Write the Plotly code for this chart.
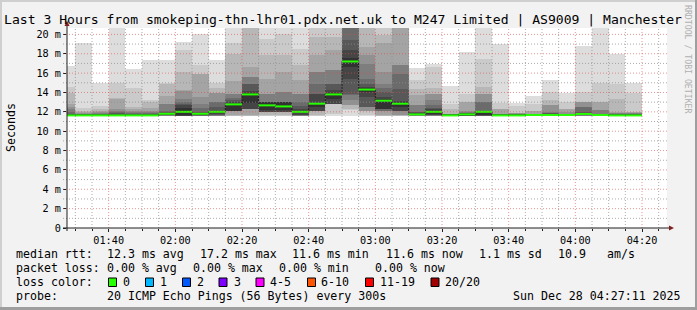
import plotly.graph_objects as go
import pandas as pd

DAY = "2025-12-28"

# start of each 5-minute measurement interval
interval_start = ["01:25", "01:30", "01:35", "01:40", "01:45", "01:50", "01:55",
                  "02:00", "02:05", "02:10", "02:15", "02:20", "02:25", "02:30",
                  "02:35", "02:40", "02:45", "02:50", "02:55", "03:00", "03:05",
                  "03:10", "03:15", "03:20", "03:25", "03:30", "03:35", "03:40",
                  "03:45", "03:50", "03:55", "04:00", "04:05", "04:10", "04:15"]

# median round-trip time per interval (ms)
median_ms = [11.63, 11.63, 11.63, 11.63, 11.63, 11.63, 11.80, 12.00, 11.80, 12.00,
             12.77, 13.80, 12.67, 12.56, 12.00, 12.84, 13.80, 17.20, 14.30, 13.15,
             12.84, 11.74, 12.00, 11.63, 11.74, 12.00, 11.63, 11.63, 11.67, 11.67,
             11.67, 11.78, 11.67, 11.63, 11.63]

# 20 sorted ping times per interval (ms) - the "smoke"
LOW = [11.55, 11.56, 11.57, 11.58, 11.58, 11.59, 11.59, 11.60, 11.60, 11.61]
pings_ms = [
    LOW + [11.66, 11.72, 11.80, 12.00, 12.25, 12.55, 12.85, 13.90, 14.56, 16.70],
    LOW + [11.65, 11.68, 11.70, 11.74, 11.80, 11.88, 11.98, 12.10, 12.40, 19.14],
    LOW + [11.65, 11.68, 11.72, 11.78, 11.86, 11.96, 12.10, 12.30, 12.57, 14.97],
    LOW + [11.67, 11.75, 11.85, 11.95, 12.10, 12.30, 13.30, 13.40, 15.00, 21.50],
    LOW + [11.66, 11.70, 11.76, 11.84, 11.94, 12.08, 12.25, 12.50, 14.50, 16.40],
    LOW + [11.66, 11.70, 11.76, 11.84, 11.95, 12.10, 12.40, 13.00, 13.20, 17.40],
    [11.55, 11.56, 11.57, 11.58, 11.60, 11.62, 11.65, 11.68, 11.72, 11.76,
     11.84, 11.92, 12.00, 12.08, 12.80, 12.85, 13.60, 14.90, 14.97, 17.40],
    [11.55, 11.56, 11.57, 11.58, 11.58, 11.59, 11.60, 11.60, 11.62, 11.65,
     12.35, 12.67, 12.80, 13.00, 13.36, 14.15, 14.22, 16.11, 18.35, 19.25],
    [11.55, 11.56, 11.57, 11.58, 11.59, 11.60, 11.62, 11.64, 11.67, 11.70,
     11.85, 11.92, 12.00, 12.40, 12.84, 13.50, 15.90, 15.90, 16.80, 20.00],
    [11.55, 11.56, 11.57, 11.58, 11.60, 11.62, 11.65, 11.70, 11.80, 11.90,
     12.05, 12.08, 12.50, 13.00, 13.00, 13.90, 13.90, 14.50, 15.00, 17.35],
    [11.55, 11.58, 11.60, 11.63, 12.08, 12.08, 12.08, 12.08, 12.08, 12.08,
     12.67, 13.01, 13.20, 13.45, 13.87, 13.87, 15.20, 18.00, 19.14, 21.50],
    [11.55, 11.58, 11.60, 11.63, 12.33, 12.33, 12.33, 12.33, 12.33, 12.90,
     13.90, 14.20, 14.90, 14.90, 15.60, 15.60, 16.60, 21.50, 21.60, 21.70],
    [11.55, 11.60, 11.63, 11.98, 11.98, 11.98, 11.98, 11.98, 11.98, 12.20,
     13.00, 13.01, 13.01, 13.01, 13.87, 13.87, 15.43, 17.83, 19.55, 21.50],
    [11.55, 11.60, 11.63, 11.98, 11.98, 11.98, 11.98, 11.98, 11.98, 12.20,
     13.00, 13.01, 13.01, 13.01, 14.05, 14.05, 16.11, 17.83, 20.07, 21.50],
    [11.55, 11.57, 11.58, 11.60, 11.60, 11.62, 11.64, 11.66, 11.70, 11.85,
     12.10, 12.30, 12.60, 13.01, 13.87, 13.87, 15.25, 16.80, 18.50, 21.50],
    [11.55, 11.60, 11.63, 12.08, 12.08, 12.08, 12.08, 12.08, 12.08, 12.50,
     12.95, 13.87, 13.87, 14.91, 16.11, 16.11, 17.83, 19.73, 21.50, 21.60],
    [11.53, 11.81, 12.84, 12.84, 12.84, 12.84, 12.84, 12.84, 12.84, 13.30,
     13.90, 14.30, 14.91, 14.91, 16.29, 16.29, 18.35, 19.73, 21.50, 21.60],
    [11.60, 12.20, 12.30, 12.75, 12.75, 13.20, 13.75, 13.80, 15.40, 16.60,
     17.60, 18.35, 19.38, 21.50, 21.60, 21.60, 21.60, 21.60, 21.60, 21.60],
    [11.55, 11.63, 12.08, 12.08, 12.08, 12.50, 12.50, 12.50, 13.53, 14.00,
     14.50, 14.60, 14.90, 15.43, 16.97, 17.83, 18.70, 21.50, 21.60, 21.60],
    [11.55, 11.60, 11.62, 11.63, 12.08, 12.08, 12.08, 12.33, 12.33, 12.33,
     13.30, 13.50, 14.05, 14.50, 14.91, 16.11, 19.10, 19.90, 21.50, 21.60],
    [11.55, 11.60, 11.62, 11.63, 11.63, 12.08, 12.08, 12.08, 12.08, 12.50,
     13.00, 13.10, 14.33, 15.87, 16.80, 16.80, 21.50, 21.60, 21.60, 21.60],
    [11.53, 11.55, 11.57, 11.58, 11.60, 11.62, 11.64, 11.66, 11.68, 11.70,
     11.80, 11.88, 11.95, 12.00, 12.67, 12.67, 13.70, 14.40, 15.30, 16.55],
    [11.55, 11.57, 11.58, 11.60, 11.61, 11.62, 11.64, 11.66, 11.70, 11.85,
     12.05, 12.33, 12.40, 12.75, 13.18, 13.87, 13.87, 14.50, 16.63, 16.97],
    LOW + [11.66, 11.70, 11.74, 11.78, 11.80, 11.81, 11.81, 12.33, 12.84, 14.63],
    [11.55, 11.56, 11.57, 11.58, 11.59, 11.60, 11.62, 11.64, 11.66, 11.68,
     11.78, 11.82, 11.86, 11.92, 12.00, 12.08, 13.00, 13.01, 13.87, 18.20],
    [11.53, 11.55, 11.57, 11.58, 11.59, 11.60, 11.61, 11.62, 11.63, 11.63,
     12.08, 12.08, 12.08, 13.01, 13.01, 13.87, 13.87, 14.57, 17.49, 21.50],
    LOW + [11.67, 11.70, 11.74, 11.78, 11.81, 11.81, 12.33, 12.33, 12.91, 18.97],
    LOW + [11.66, 11.70, 11.73, 11.76, 11.80, 11.84, 11.86, 11.88, 12.56, 12.94],
    LOW + [11.70, 11.73, 11.76, 11.78, 11.80, 11.81, 12.08, 12.08, 12.77, 13.67],
    LOW + [11.72, 11.78, 11.85, 11.92, 12.00, 12.67, 12.67, 13.18, 14.05, 15.30],
    LOW + [11.70, 11.73, 11.76, 11.81, 11.81, 11.98, 12.33, 12.33, 13.01, 13.98],
    [11.55, 11.57, 11.58, 11.60, 11.61, 11.62, 11.64, 11.66, 11.68, 11.70,
     11.85, 11.90, 11.98, 12.50, 12.50, 13.01, 13.01, 13.01, 14.05, 18.83],
    LOW + [11.70, 11.73, 11.76, 11.81, 12.15, 12.15, 13.01, 13.01, 14.97, 21.50],
    LOW + [11.66, 11.70, 11.74, 11.78, 11.85, 11.92, 11.98, 13.36, 14.84, 17.93],
    LOW + [11.66, 11.70, 11.74, 11.78, 11.84, 11.90, 11.95, 11.98, 13.94, 15.00],
]

y_tick_vals = [0, 2, 4, 6, 8, 10, 12, 14, 16, 18, 20]
y_tick_text = ["0", "2 m", "4 m", "6 m", "8 m", "10 m", "12 m", "14 m", "16 m", "18 m", "20 m"]

loss_labels = ["0", "1", "2", "3", "4-5", "6-10", "11-19", "20/20"]
loss_colors = ["#26ff00", "#00b8ff", "#0059ff", "#7e00ff", "#ff00ff", "#ff5500", "#ff0000", "#a10000"]

title_text = "Last 3 Hours from smokeping-thn-lhr01.pdx.net.uk to M247 Limited | AS9009 | Manchester"
rtt_items = ["median rtt:", "12.3 ms avg", "17.2 ms max", "11.6 ms min", "11.6 ms now",
             "1.1 ms sd", "10.9", "am/s"]
loss_items = ["packet loss:", "0.00 % avg", "0.00 % max", "0.00 % min", "0.00 % now"]
probe_items = ["probe:", "20 ICMP Echo Pings (56 Bytes) every 300s", "Sun Dec 28 04:27:11 2025"]

# ---------------------------------------------------------------- layout geometry
W_PX, H_PX = 697, 310
L, T, PW, PH = 67, 28, 600, 200
FONT = "DejaVu Sans Mono"


def px(x):
    return (x - L) / PW


def py(y):
    return (T + PH - y) / PH


starts = pd.to_datetime([f"{DAY} {t}" for t in interval_start])
step = pd.Timedelta(minutes=5)
centers = [s + step / 2 for s in starts]
ends = [s + step for s in starts]
start_iso = [s.strftime("%Y-%m-%d %H:%M:%S") for s in starts]
center_iso = [s.strftime("%Y-%m-%d %H:%M:%S") for s in centers]
end_iso = [s.strftime("%Y-%m-%d %H:%M:%S") for s in ends]
x_range = [f"{DAY} 01:27:30", f"{DAY} 04:27:30"]
y_max = 20.66

fig = go.Figure()

# smoke bands (smokeping style: pair i-th lowest with i-th highest)
half = 10
for b in range(1, half + 1):
    g = int(190 / half * (half - b)) + 50
    lo = [p[b - 1] for p in pings_ms]
    hi = [p[20 - b] for p in pings_ms]
    fig.add_trace(go.Bar(
        x=center_iso, y=[h - l for h, l in zip(hi, lo)], base=lo, width=300000,
        marker=dict(color=f"rgb({g},{g},{g})", line=dict(width=0)),
        hoverinfo="skip", showlegend=False))

# thin dark median connector (step)
fig.add_trace(go.Scatter(
    x=start_iso + [end_iso[-1]], y=median_ms + [median_ms[-1]], mode="lines",
    line=dict(shape="hv", color="#1f1f1f", width=1), hoverinfo="skip", showlegend=False))

# green median segments
gx, gy = [], []
for s, e, m in zip(start_iso, end_iso, median_ms):
    gx += [s, e, None]
    gy += [m, m, None]
fig.add_trace(go.Scatter(x=gx, y=gy, mode="lines", connectgaps=False,
                         line=dict(color=loss_colors[0], width=2),
                         hoverinfo="skip", showlegend=False))

shapes = []
GRID = "rgba(143,143,143,0.75)"
MGRID = "rgba(222,79,79,0.6)"
DASH = "1px,2px"
# vertical grid
t = pd.Timestamp(f"{DAY} 01:30")
while t <= pd.Timestamp(x_range[1]):
    major = (t.minute % 20 == 0)
    shapes.append(dict(type="line", xref="x", yref="paper",
                       x0=t.strftime("%Y-%m-%d %H:%M:%S"), x1=t.strftime("%Y-%m-%d %H:%M:%S"),
                       y0=0, y1=1,
                       line=dict(color=MGRID if major else GRID, width=1, dash=DASH),
                       layer="above"))
    t += step
# horizontal grid
for v in range(1, 21):
    major = (v % 2 == 0)
    shapes.append(dict(type="line", xref="paper", yref="y", x0=px(63), x1=px(669), y0=v, y1=v,
                       line=dict(color=MGRID if major else GRID, width=1, dash=DASH),
                       layer="above"))
# axes lines + arrows
AX = "#1f1f1f"
ARROW = "#801f1f"
shapes.append(dict(type="line", xref="paper", yref="paper", x0=px(67), x1=px(67),
                   y0=py(231), y1=py(25), line=dict(color=AX, width=1), layer="above"))
shapes.append(dict(type="line", xref="paper", yref="paper", x0=px(63), x1=px(670),
                   y0=py(228), y1=py(228), line=dict(color=AX, width=1), layer="above"))
shapes.append(dict(type="path", xref="paper", yref="paper",
                   path=f"M {px(64.5)} {py(26)} L {px(69.5)} {py(26)} L {px(67)} {py(20.5)} Z",
                   fillcolor=ARROW, line=dict(width=0), layer="above"))
shapes.append(dict(type="path", xref="paper", yref="paper",
                   path=f"M {px(669)} {py(225.5)} L {px(669)} {py(230.5)} L {px(674)} {py(228)} Z",
                   fillcolor=ARROW, line=dict(width=0), layer="above"))
# image border (3d look)
shapes += [
    dict(type="rect", xref="paper", yref="paper", x0=px(0), x1=px(697), y0=py(0), y1=py(2),
         fillcolor="#cfcfcf", line=dict(width=0)),
    dict(type="rect", xref="paper", yref="paper", x0=px(0), x1=px(2), y0=py(0), y1=py(310),
         fillcolor="#cfcfcf", line=dict(width=0)),
    dict(type="rect", xref="paper", yref="paper", x0=px(0), x1=px(697), y0=py(307), y1=py(310),
         fillcolor="#9e9e9e", line=dict(width=0)),
    dict(type="rect", xref="paper", yref="paper", x0=px(695), x1=px(697), y0=py(0), y1=py(310),
         fillcolor="#9e9e9e", line=dict(width=0)),
]
# loss color boxes
box_x = [108.5, 145.5, 182.5, 219, 256, 307.5, 365.5, 431]
for bx, c in zip(box_x, loss_colors):
    shapes.append(dict(type="rect", xref="paper", yref="paper",
                       x0=px(bx), x1=px(bx + 8), y0=py(278), y1=py(286.5),
                       fillcolor=c, line=dict(color="#000000", width=1)))

annotations = []


def text(x, y, s, size=11.6, color="#000000", angle=0, xanchor="left"):
    annotations.append(dict(x=px(x), y=py(y), xref="paper", yref="paper", text=s,
                            showarrow=False, xanchor=xanchor, yanchor="middle",
                            textangle=angle, borderpad=0, borderwidth=0,
                            font=dict(family=FONT, size=size, color=color)))


text(3.5, 19.5, title_text, size=13.1)
text(11, 128, "Seconds", size=11.6, angle=-90, xanchor="center")
text(688, 59, "RRDTOOL / TOBI OETIKER", size=8.2, color="#b0b0b0", angle=90, xanchor="center")

rtt_x = [16, 107.3, 200, 292.7, 386, 479.3, 558.3, 607.7]
for x, s in zip(rtt_x, rtt_items):
    text(x - 0.5, 254.2, s)
loss_x = [16, 107.3, 193.3, 279.3, 375]
for x, s in zip(loss_x, loss_items):
    text(x - 0.5, 268, s)
text(15.5, 281.8, "loss color:")
lbl_x = [123.3, 160, 197, 234.3, 270.7, 321.7, 380.7, 445.3]
for x, s in zip(lbl_x, loss_labels):
    text(x - 0.5, 281.8, s)
probe_x = [16, 107.3, 513.3]
for x, s in zip(probe_x, probe_items):
    text(x - 0.5, 295.6, s)

fig.update_layout(
    width=W_PX, height=H_PX, autosize=False,
    margin=dict(l=L, r=W_PX - L - PW, t=T, b=H_PX - T - PH, pad=0),
    paper_bgcolor="#f2f2f2", plot_bgcolor="#ffffff",
    barmode="overlay", bargap=0, showlegend=False,
    shapes=shapes, annotations=annotations,
    xaxis=dict(type="date", range=x_range, showgrid=False, zeroline=False, showline=False,
               tickformat="%H:%M", dtick=1200000, tick0=f"{DAY} 00:00",
               ticks="outside", ticklen=3, tickcolor=AX,
               minor=dict(dtick=300000, ticks="outside", ticklen=2, tickcolor=AX, showgrid=False),
               tickfont=dict(family=FONT, size=10.2, color="#000000"), fixedrange=True),
    yaxis=dict(range=[0, y_max], showgrid=False, zeroline=False, showline=False,
               tickvals=y_tick_vals, ticktext=y_tick_text,
               ticks="outside", ticklen=3, tickcolor=AX,
               tickfont=dict(family=FONT, size=10.2, color="#000000"), fixedrange=True),
)

fig.write_html("out.html")
